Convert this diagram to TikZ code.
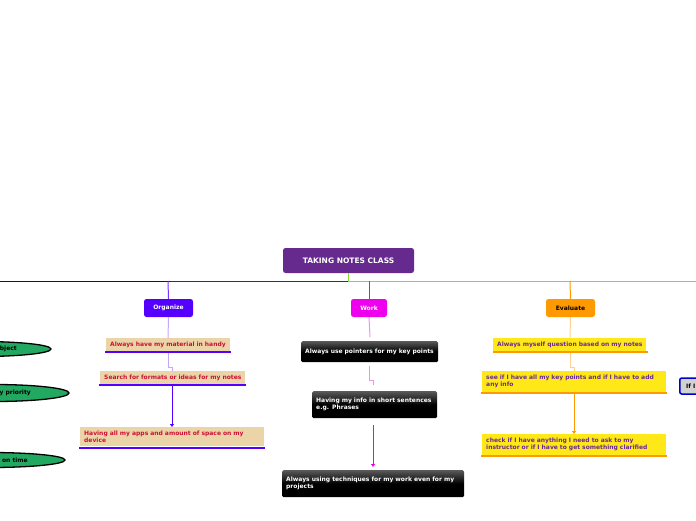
\documentclass[tikz,border=0pt]{standalone}
\usepackage{fontspec}
\setmainfont{DejaVu Sans}
\usetikzlibrary{arrows.meta,shapes.geometric}
\hyphenpenalty=10000
\exhyphenpenalty=10000
\definecolor{rootc}{HTML}{662A8F}
\definecolor{orgc}{HTML}{5500FF}
\definecolor{workc}{HTML}{EE00EE}
\definecolor{evalc}{HTML}{FF9900}
\definecolor{tanc}{HTML}{EBD5A8}
\definecolor{redt}{HTML}{CC1133}
\definecolor{yelc}{HTML}{FFE817}
\definecolor{purt}{HTML}{6A2A99}
\definecolor{grnc}{HTML}{22A860}
\definecolor{linec}{HTML}{80E030}
\tikzset{x=1pt,y=-1pt,
 fnt/.style={font=\fontsize{6}{7}\selectfont\bfseries},
 mainb/.style={fnt,rounded corners=2.5pt,text=white,align=center,inner sep=0},
 tanb/.style={fnt,fill=tanc,text=redt,align=left,anchor=north west,inner sep=0,text width=#1},
 yelb/.style={fnt,fill=yelc,text=purt,align=left,anchor=north west,inner sep=0,text width=#1},
 blkb/.style={fnt,rounded corners=1.5pt,top color=gray!70!black,bottom color=black,middle color=black,text=white,align=left,anchor=north west,inner sep=0,text width=#1},
 ul/.style={line width=2pt,#1},
 ell/.style={draw=black,line width=1.3pt,fill=grnc,ellipse,inner sep=0},
 lk/.style={line width=1pt},
}
\begin{document}
\begin{tikzpicture}
\useasboundingbox (0,0) rectangle (696,520);
\clip (0,0) rectangle (696,520);
% root line
\draw[blue!85!black,lk] (0,281) -- (170,281);
\draw[orgc,lk] (170,281) -- (348,281);
\draw[linec,lk] (348,281) -- (696,281);
\node[mainb,fill=rootc,minimum width=131pt,minimum height=25pt,font=\fontsize{7.5}{9}\selectfont\bfseries] (root) at (348.5,260.5) {TAKING NOTES CLASS};
\draw[linec,lk] (348,273) -- (348,281);
% main nodes
\node[mainb,fill=orgc,minimum width=49pt,minimum height=18pt] (org) at (168.5,308) {Organize};
\node[mainb,fill=workc,minimum width=36pt,minimum height=18pt] (work) at (369,308) {Work};
\node[mainb,fill=evalc,text=black,minimum width=49pt,minimum height=18pt] (eval) at (570.5,308) {Evaluate};
\draw[orgc!80,lk] (168,281) -- (org.north);
\draw[workc,lk] (369,281) -- (work.north);
\draw[evalc,lk] (570,281) -- (eval.north);
% Organize children
\node[tanb=124pt,minimum height=13pt] (o1) at (106,338) {\hspace*{4pt}Always have my material in handy};
\node[tanb=145pt,minimum height=13pt] (o2) at (100,371) {\hspace*{4pt}Search for formats or ideas for my notes};
\node[tanb=184pt,minimum height=19pt,inner xsep=4pt,text width=176pt] (o3) at (80,427) {Having all my apps and amount of space on my device};
\draw[ul=orgc] (105,352) -- (231,352);
\draw[ul=orgc] (99,385) -- (246,385);
\draw[ul=orgc] (79,448) -- (265,448);
\draw[orgc!35,lk] (org.south) -- (168,338);
\draw[orgc!35,lk] (168,353) -- (168,367) -- (172,367) -- (172,371);
\draw[orgc,lk,-{Triangle[length=3pt,width=4pt]}] (172,386) -- (o3.north -| 172,0);
% Work children
\node[blkb=137pt,minimum height=21pt,inner xsep=4pt,text width=129pt] (w1) at (301,341) {Always use pointers for my key points};
\node[blkb=123pt,minimum height=27pt,inner xsep=4pt,text width=117pt] (w2) at (312,391) {Having my info in short sentences e.g. Phrases};
\node[blkb=182pt,minimum height=27pt,inner xsep=4pt,text width=174pt] (w3) at (282,470) {Always using techniques for my work even for my projects};
\draw[workc!45,lk] (work.south) -- (370,337);
\draw[workc!45,lk] (369,366) -- (369,380) -- (373,380) -- (373,385);
\draw[workc,lk,-{Triangle[length=3pt,width=4pt]}] (373,425) -- (373,467);
% Evaluate children
\node[yelb=153pt,minimum height=13pt] (e1) at (493,338) {\hspace*{4pt}Always myself question based on my notes};
\node[yelb=184pt,minimum height=21pt,inner xsep=4pt,text width=176pt] (e2) at (482,371) {see if I have all my key points and if I have to add any info};
\node[yelb=184pt,minimum height=21pt,inner xsep=4pt,text width=176pt] (e3) at (482,434) {check if I have anything I need to ask to my instructor or if I have to get something clarified};
\draw[ul=evalc] (493,352) -- (648,352);
\draw[ul=evalc] (481,393) -- (667,393);
\draw[ul=evalc] (481,456) -- (667,456);
\draw[evalc!45,lk] (eval.south) -- (570,338);
\draw[evalc!45,lk] (570,353) -- (570,367) -- (574,367) -- (574,371);
\draw[evalc,lk,-{Triangle[length=3pt,width=4pt]}] (574,394) -- (e3.north -| 574,0);
% right partial node
\node[fnt,draw=blue!80!black,line width=1.5pt,fill=gray!35,rounded corners=2pt,minimum height=16pt,minimum width=30pt,anchor=west,align=left,text=black] (r1) at (679,386) {\hspace*{3pt}If I\hspace*{14pt}};
% left ellipses
\node[ell,minimum width=140pt,minimum height=15pt] (l1) at (-19,349) {};
\node[ell,minimum width=150pt,minimum height=17pt] (l2) at (-6,393) {};
\node[ell,minimum width=150pt,minimum height=15pt] (l3) at (-10,460) {};
\node[fnt,anchor=east,inner sep=0] (t1) at (17,349) {bject};
\node[fnt,anchor=east,inner sep=0] (t2) at (31,393) {y priority};
\node[fnt,anchor=east,inner sep=0] (t3) at (28,460) {on time};
\end{tikzpicture}
\end{document}
